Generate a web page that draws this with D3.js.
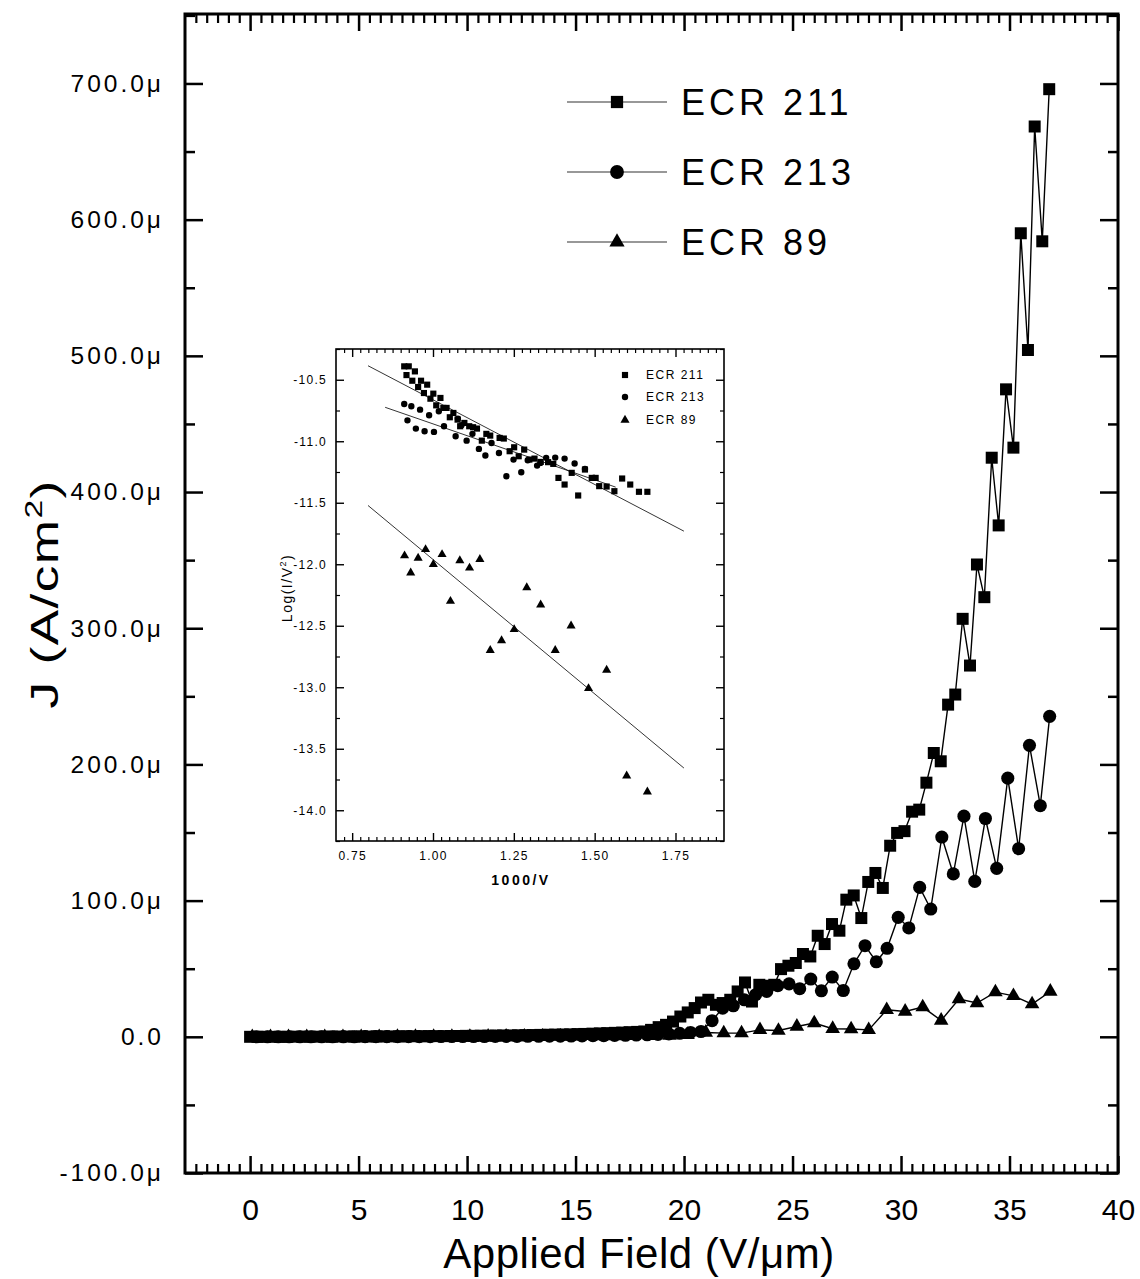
<!DOCTYPE html>
<html>
<head>
<meta charset="utf-8">
<script src="https://cdn.jsdelivr.net/npm/d3@7.9.0/dist/d3.min.js"></script>
<style>
  body { margin: 0; background: #fff; }
  text { font-family: "Liberation Sans", Arial, sans-serif; fill: #000; }
</style>
</head>
<body>
<div id="chart"></div>
<script>
// ---- main plot data: [field V/um, J in uA/cm2] ----
const ecr211 = [
  [0,0],[0.34,0],[0.69,0],[1.03,0],[1.37,0],[1.72,0],[2.06,0.1],[2.4,0.1],[2.74,0.1],[3.09,0.1],
  [3.43,0.1],[3.77,0.1],[4.12,0.2],[4.46,0.2],[4.8,0.2],[5.15,0.2],[5.49,0.2],[5.83,0.3],[6.17,0.3],
  [6.52,0.3],[6.86,0.3],[7.2,0.4],[7.55,0.4],[7.89,0.4],[8.23,0.5],[8.58,0.5],[8.92,0.5],[9.26,0.6],
  [9.6,0.6],[9.95,0.7],[10.29,0.7],[10.63,0.8],[10.98,0.8],[11.32,0.9],[11.66,1.0],[12.01,1.0],
  [12.35,1.1],[12.69,1.2],[13.03,1.3],[13.38,1.4],[13.72,1.5],[14.06,1.6],[14.41,1.7],[14.75,1.8],
  [15.09,2.0],[15.44,2.1],[15.78,2.3],[16.12,2.5],[16.46,2.7],[16.81,2.9],[17.15,3.1],[17.49,3.4],
  [17.84,3.6],[18.17,3.9],[18.48,5.1],[18.83,7.1],[19.17,8.8],[19.49,11.2],[19.83,14.9],[20.17,17.9],
  [20.49,21.1],[20.78,25.2],[21.12,27.2],[21.47,23.5],[21.78,24.8],[22.13,27.2],[22.47,33.3],
  [22.81,39.9],[23.13,25.9],[23.47,38.2],[23.82,37.5],[24.16,38.2],[24.47,49.7],[24.81,52.2],
  [25.15,54.2],[25.48,60.8],[25.82,59.0],[26.16,74.2],[26.48,68.1],[26.82,82.8],[27.16,77.9],
  [27.48,100.7],[27.82,103.8],[28.17,87.2],[28.49,113.7],[28.82,120.3],[29.16,109.3],[29.5,140.3],
  [29.82,149.7],[30.16,151.0],[30.51,165.3],[30.84,166.8],[31.17,186.6],[31.51,208.4],[31.83,202.3],
  [32.17,243.9],[32.5,251.3],[32.84,306.9],[33.18,272.6],[33.5,346.8],[33.84,322.8],[34.18,425.2],
  [34.5,375.5],[34.84,475.4],[35.18,432.6],[35.52,590.0],[35.85,504.3],[36.16,668.4],[36.51,584.1],
  [36.83,695.8]
];
const ecr213 = [
  [0.3,0],[0.8,0],[1.3,0],[1.8,0],[2.3,0],[2.8,0],[3.3,0],[3.8,0],[4.3,0],[4.8,0],[5.3,0.1],[5.8,0.1],
  [6.3,0.1],[6.8,0.1],[7.3,0.1],[7.8,0.1],[8.3,0.1],[8.8,0.2],[9.3,0.2],[9.8,0.2],[10.3,0.2],[10.8,0.2],
  [11.3,0.3],[11.8,0.3],[12.3,0.3],[12.8,0.4],[13.3,0.4],[13.8,0.5],[14.3,0.5],[14.8,0.6],[15.3,0.7],
  [15.8,0.8],[16.3,0.9],[16.8,1.0],[17.3,1.1],[17.8,1.3],[18.3,1.5],[18.8,1.8],[19.3,2.1],[19.8,2.6],
  [20.3,3.2],[20.78,3.9],[21.29,11.8],[21.78,21.1],[22.27,22.8],[22.78,27.2],[23.3,30.9],[23.81,33.3],
  [24.32,37.5],[24.84,38.9],[25.33,35.3],[25.84,42.4],[26.33,33.8],[26.83,43.9],[27.34,34.0],
  [27.83,53.6],[28.34,66.9],[28.86,55.1],[29.36,65.0],[29.87,87.7],[30.36,79.9],[30.86,109.7],
  [31.37,93.8],[31.88,146.7],[32.41,119.6],[32.9,162.0],[33.4,114.1],[33.89,160.3],[34.41,123.7],
  [34.92,189.9],[35.42,138.1],[35.92,214.0],[36.42,169.7],[36.85,235.3]
];
const ecr89 = [
  [0.1,0],[0.94,0],[1.77,0],[2.61,0],[3.44,0],[4.28,0],[5.12,0],[5.95,0],[6.79,0.1],[7.62,0.1],
  [8.46,0.1],[9.3,0.1],[10.13,0.1],[10.97,0.2],[11.8,0.2],[12.64,0.2],[13.48,0.3],[14.31,0.3],
  [15.15,0.4],[15.98,0.5],[16.82,0.6],[17.66,0.7],[18.49,0.8],[19.33,1.0],[20.16,1.5],[21.0,3.2],
  [21.83,2.7],[22.65,2.7],[23.5,5.1],[24.35,4.6],[25.2,7.6],[26.0,10.1],[26.85,5.9],[27.7,5.7],
  [28.51,5.1],[29.34,19.8],[30.19,18.6],[31.0,21.8],[31.85,12.0],[32.67,27.7],[33.5,24.8],
  [34.35,32.8],[35.18,30.1],[36.04,24.0],[36.88,33.3]
];
const seriesNames = ["ECR 211", "ECR 213", "ECR 89"];
const xTicks = [0, 5, 10, 15, 20, 25, 30, 35, 40];
const yTicks = [-100, 0, 100, 200, 300, 400, 500, 600, 700];
const yTickLabels = ["-100.0\u03bc", "0.0", "100.0\u03bc", "200.0\u03bc", "300.0\u03bc",
  "400.0\u03bc", "500.0\u03bc", "600.0\u03bc", "700.0\u03bc"];

// ---- inset data: [1000/V, Log(I/V^2)] ----
const in211 = [
  [0.911,-10.391],[0.925,-10.391],[0.918,-10.462],[0.944,-10.432],[0.936,-10.508],[0.963,-10.508],
  [0.954,-10.559],[0.982,-10.54],[0.972,-10.608],[1.001,-10.613],[0.992,-10.654],[1.023,-10.648],
  [1.01,-10.708],[1.032,-10.729],[1.042,-10.729],[1.052,-10.805],[1.063,-10.77],[1.076,-10.824],
  [1.084,-10.878],[1.097,-10.851],[1.112,-10.878],[1.124,-10.886],[1.136,-10.897],[1.165,-10.94],
  [1.151,-10.995],[1.177,-10.954],[1.206,-10.973],[1.219,-10.978],[1.237,-11.081],[1.251,-11.049],
  [1.265,-11.122],[1.282,-11.068],[1.298,-11.149],[1.314,-11.141],[1.333,-11.168],[1.356,-11.17],
  [1.372,-11.184],[1.388,-11.298],[1.407,-11.352],[1.429,-11.257],[1.449,-11.441],[1.47,-11.23],
  [1.491,-11.298],[1.503,-11.298],[1.514,-11.365],[1.537,-11.368],[1.561,-11.406],[1.585,-11.303],
  [1.61,-11.352],[1.637,-11.411],[1.663,-11.411]
];
const in213 = [
  [0.911,-10.697],[0.933,-10.716],[0.921,-10.83],[0.96,-10.743],[0.947,-10.897],[0.988,-10.789],
  [0.974,-10.919],[1.018,-10.756],[1.003,-10.924],[1.034,-10.878],[1.07,-10.959],[1.077,-10.816],
  [1.088,-10.87],[1.104,-10.995],[1.122,-10.94],[1.142,-11.062],[1.162,-11.116],[1.181,-11.014],
  [1.204,-11.095],[1.227,-11.284],[1.249,-11.149],[1.273,-11.252],[1.293,-11.154],[1.322,-11.198],
  [1.332,-11.176],[1.35,-11.135],[1.378,-11.133],[1.407,-11.141],[1.438,-11.181],[1.47,-11.225],
  [1.498,-11.298]
];
const in89 = [
  [0.912,-11.93],[0.931,-12.07],[0.954,-11.95],[0.977,-11.88],[1.001,-12.0],[1.028,-11.92],
  [1.054,-12.3],[1.083,-11.97],[1.113,-12.03],[1.145,-11.96],[1.177,-12.7],[1.212,-12.62],
  [1.251,-12.53],[1.29,-12.19],[1.333,-12.33],[1.378,-12.7],[1.427,-12.5],[1.481,-13.01],
  [1.537,-12.86],[1.599,-13.72],[1.663,-13.85]
];
const fit211 = [[0.799,-10.386],[1.776,-11.731]];
const fit213 = [[0.852,-10.724],[1.565,-11.373]];
const fit89 = [[0.799,-11.522],[1.776,-13.657]];
const inXTicks = [0.75, 1.0, 1.25, 1.5, 1.75];
const inYTicks = [-14.0, -13.5, -13.0, -12.5, -12.0, -11.5, -11.0, -10.5];

const svg = d3.select("#chart").append("svg").attr("width", 1140).attr("height", 1279);

const x = d3.scaleLinear().domain([-3, 40]).range([185, 1118]);
const y = d3.scaleLinear().domain([-100, 751]).range([1173, 14]);

const font = '"Liberation Sans", Arial, sans-serif';

function styleAxis(g, size, width) {
  g.select(".domain").remove();
  g.selectAll("line").attr("stroke", "#000").attr("stroke-width", width);
  g.attr("font-family", font).attr("font-size", size);
  g.selectAll("text").attr("fill", "#000");
}

// minor ticks
const minorX = d3.range(-2.5, 40, 0.5).filter(d => Math.abs(d % 5) > 0.01);
const minorY = d3.range(-50, 751, 100);
svg.append("g").attr("transform", `translate(0,${y(-100)})`)
  .call(d3.axisBottom(x).tickValues(minorX).tickSize(-9).tickFormat(""))
  .call(g => styleAxis(g, 10, 2.2));
svg.append("g").attr("transform", `translate(0,${y(751)})`)
  .call(d3.axisTop(x).tickValues(minorX).tickSize(-9).tickFormat(""))
  .call(g => styleAxis(g, 10, 2.2));
svg.append("g").attr("transform", `translate(${x(-3)},0)`)
  .call(d3.axisLeft(y).tickValues(minorY).tickSize(-10).tickFormat(""))
  .call(g => styleAxis(g, 10, 2.5));
svg.append("g").attr("transform", `translate(${x(40)},0)`)
  .call(d3.axisRight(y).tickValues(minorY).tickSize(-10).tickFormat(""))
  .call(g => styleAxis(g, 10, 2.5));

// major ticks + labels
svg.append("g").attr("transform", `translate(0,${y(-100)})`)
  .call(d3.axisBottom(x).tickValues(xTicks).tickSize(-17).tickPadding(26).tickFormat(d3.format("d")))
  .call(g => styleAxis(g, 30, 2.5));
svg.append("g").attr("transform", `translate(0,${y(751)})`)
  .call(d3.axisTop(x).tickValues(xTicks).tickSize(-17).tickFormat(""))
  .call(g => styleAxis(g, 10, 2.5));
svg.append("g").attr("transform", `translate(${x(-3)},0)`)
  .call(d3.axisLeft(y).tickValues(yTicks).tickSize(-18).tickPadding(21)
    .tickFormat((d, i) => yTickLabels[i]))
  .call(g => styleAxis(g, 24.5, 2.5))
  .selectAll("text").attr("letter-spacing", 3);
svg.append("g").attr("transform", `translate(${x(40)},0)`)
  .call(d3.axisRight(y).tickValues(yTicks).tickSize(-18).tickFormat(""))
  .call(g => styleAxis(g, 10, 2.5));

// frame
svg.append("rect")
  .attr("x", x(-3)).attr("y", y(751))
  .attr("width", x(40) - x(-3)).attr("height", y(-100) - y(751))
  .attr("fill", "none").attr("stroke", "#000").attr("stroke-width", 3);

// axis titles
svg.append("text")
  .attr("x", 639).attr("y", 1268).attr("text-anchor", "middle")
  .attr("font-size", 42).attr("letter-spacing", 0.5)
  .text("Applied Field (V/\u03bcm)");

const yTitle = svg.append("text")
  .attr("transform", "translate(58,594) rotate(-90) scale(1.4,1)")
  .attr("text-anchor", "middle").attr("font-size", 38).attr("letter-spacing", 1);
yTitle.append("tspan").text("J (A/cm");
yTitle.append("tspan").attr("font-size", 24).attr("dy", -16).text("2");
yTitle.append("tspan").attr("dy", 16).text(")");

// series
const symbols = [d3.symbolSquare, d3.symbolCircle, d3.symbolTriangle];
const sizes = [144, 135, 92];
const allSeries = [ecr211, ecr213, ecr89];
const line = d3.line().x(d => x(d[0])).y(d => y(d[1]));

allSeries.forEach((data, i) => {
  svg.append("path").attr("d", line(data))
    .attr("fill", "none").attr("stroke", "#000").attr("stroke-width", 1.4);
});
allSeries.forEach((data, i) => {
  svg.append("g").selectAll("path").data(data).join("path")
    .attr("transform", d => `translate(${x(d[0])},${y(d[1])})`)
    .attr("d", d3.symbol().type(symbols[i]).size(sizes[i]))
    .attr("fill", "#000");
});

// legend
const legendY = [102, 172, 242];
seriesNames.forEach((name, i) => {
  const g = svg.append("g").attr("transform", `translate(0,${legendY[i]})`);
  g.append("line").attr("x1", 567).attr("x2", 667).attr("y1", 0).attr("y2", 0)
    .attr("stroke", "#333").attr("stroke-width", 1.1);
  g.append("path").attr("transform", "translate(617,0)")
    .attr("d", d3.symbol().type(symbols[i]).size([150, 150, 100][i])).attr("fill", "#000");
  g.append("text").attr("x", 681).attr("y", 13)
    .attr("font-size", 36).attr("letter-spacing", 4).text(name);
});

// ---- inset ----
const xi = d3.scaleLinear().domain([0.7, 1.9]).range([336, 724]);
const yi = d3.scaleLinear().domain([-14.25, -10.25]).range([841, 349]);

svg.append("rect").attr("x", 336).attr("y", 349).attr("width", 388).attr("height", 492)
  .attr("fill", "#fff");

const inMinorX = d3.range(0.725, 1.9, 0.025).filter(d => Math.abs((d / 0.25) - Math.round(d / 0.25)) > 0.01);
const inMinorY = d3.range(-14.25, -10.2, 0.25).filter(d => Math.abs((d * 2) - Math.round(d * 2)) > 0.01);

svg.append("g").attr("transform", `translate(0,${yi(-14.25)})`)
  .call(d3.axisBottom(xi).tickValues(inMinorX).tickSize(-4).tickFormat(""))
  .call(g => styleAxis(g, 10, 1.2));
svg.append("g").attr("transform", `translate(0,${yi(-10.25)})`)
  .call(d3.axisTop(xi).tickValues(inMinorX).tickSize(-4).tickFormat(""))
  .call(g => styleAxis(g, 10, 1.2));
svg.append("g").attr("transform", `translate(${xi(0.7)},0)`)
  .call(d3.axisLeft(yi).tickValues(inMinorY).tickSize(-4).tickFormat(""))
  .call(g => styleAxis(g, 10, 1.2));
svg.append("g").attr("transform", `translate(${xi(1.9)},0)`)
  .call(d3.axisRight(yi).tickValues(inMinorY).tickSize(-4).tickFormat(""))
  .call(g => styleAxis(g, 10, 1.2));

svg.append("g").attr("transform", `translate(0,${yi(-14.25)})`)
  .call(d3.axisBottom(xi).tickValues(inXTicks).tickSize(-8).tickPadding(10).tickFormat(d3.format(".2f")))
  .call(g => styleAxis(g, 12, 1.4))
  .selectAll("text").attr("letter-spacing", 1.3).attr("fill", "#222");
svg.append("g").attr("transform", `translate(0,${yi(-10.25)})`)
  .call(d3.axisTop(xi).tickValues(inXTicks).tickSize(-8).tickFormat(""))
  .call(g => styleAxis(g, 10, 1.4));
svg.append("g").attr("transform", `translate(${xi(0.7)},0)`)
  .call(d3.axisLeft(yi).tickValues(inYTicks).tickSize(-8).tickPadding(9).tickFormat(d3.format(".1f")))
  .call(g => styleAxis(g, 12, 1.4))
  .selectAll("text").attr("letter-spacing", 1.3).attr("fill", "#222")
  .text(d => d3.format(".1f")(d).replace("\u2212", "-"));
svg.append("g").attr("transform", `translate(${xi(1.9)},0)`)
  .call(d3.axisRight(yi).tickValues(inYTicks).tickSize(-8).tickFormat(""))
  .call(g => styleAxis(g, 10, 1.4));

svg.append("rect").attr("x", 336).attr("y", 349).attr("width", 388).attr("height", 492)
  .attr("fill", "none").attr("stroke", "#000").attr("stroke-width", 1.6);

svg.append("text").attr("x", 521).attr("y", 885).attr("text-anchor", "middle")
  .attr("font-size", 14).attr("font-weight", "bold").attr("letter-spacing", 2.5).text("1000/V");

const inYTitle = svg.append("text").attr("transform", "translate(292,588) rotate(-90)")
  .attr("text-anchor", "middle").attr("font-size", 14).attr("letter-spacing", 1.5);
inYTitle.append("tspan").text("Log(I/V");
inYTitle.append("tspan").attr("font-size", 9).attr("dy", -6).text("2");
inYTitle.append("tspan").attr("dy", 6).text(")");

const fitLine = d3.line().x(d => xi(d[0])).y(d => yi(d[1]));
[fit211, fit213, fit89].forEach(f => {
  svg.append("path").attr("d", fitLine(f)).attr("fill", "none")
    .attr("stroke", "#000").attr("stroke-width", 0.8);
});

const inSizes = [38, 32, 36];
[in211, in213, in89].forEach((data, i) => {
  svg.append("g").selectAll("path").data(data).join("path")
    .attr("transform", d => `translate(${xi(d[0])},${yi(d[1])})`)
    .attr("d", d3.symbol().type(symbols[i]).size(inSizes[i]))
    .attr("fill", "#000");
});

const inLegendY = [375, 397, 420];
seriesNames.forEach((name, i) => {
  svg.append("path").attr("transform", `translate(625,${inLegendY[i]})`)
    .attr("d", d3.symbol().type(symbols[i]).size(inSizes[i])).attr("fill", "#000");
  svg.append("text").attr("x", 646).attr("y", inLegendY[i] + 4)
    .attr("font-size", 12).attr("letter-spacing", 1.5).attr("fill", "#222").text(name);
});
</script>
</body>
</html>
